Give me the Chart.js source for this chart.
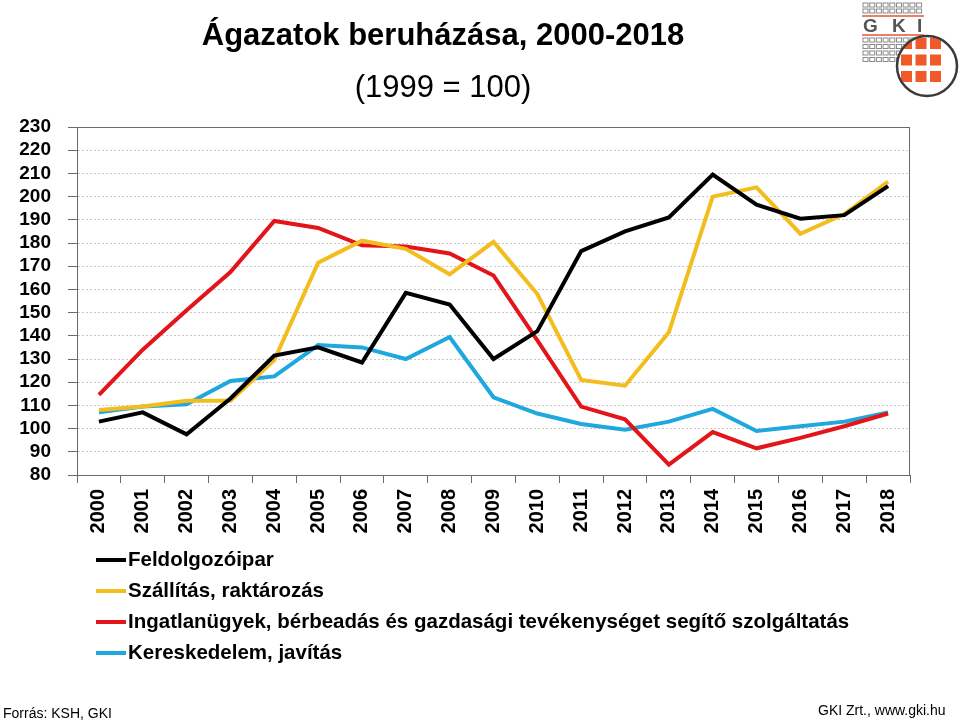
<!DOCTYPE html>
<html>
<head>
<meta charset="utf-8">
<script src="https://cdn.jsdelivr.net/npm/chart.js@4/dist/chart.umd.min.js"></script>
<style>
  html, body { margin: 0; padding: 0; background: #fff; }
  body { width: 960px; height: 723px; position: relative; overflow: hidden;
         font-family: "Liberation Sans", Arial, sans-serif; }
  #wrap { position: absolute; left: 0; top: 0; width: 960px; height: 723px; }
  .title { position: absolute; left: 0; width: 886px; text-align: center; color: #000; }
  #t1 { top: 17px; font-size: 31px; font-weight: bold; }
  #t2 { top: 69px; font-size: 31px; }
  #legend { position: absolute; left: 96px; top: 543px; }
  .item { height: 31px; line-height: 31px; font-size: 20.5px; font-weight: bold; white-space: nowrap; }
  .item span.ln { display: inline-block; width: 30px; height: 4px; vertical-align: middle; margin-right: 2px; position: relative; top: -1px; }
  .foot { position: absolute; font-size: 14px; color: #000; }
  #logo { position: absolute; left: 860px; top: 0; }
</style>
</head>
<body>
<div id="wrap"><canvas id="chart"></canvas></div>
<div class="title" id="t1">Ágazatok beruházása, 2000-2018</div>
<div class="title" id="t2">(1999 = 100)</div>
<div id="legend"></div>
<div class="foot" style="left:3px; top:705px;">Forrás: KSH, GKI</div>
<div class="foot" style="left:818px; top:702px;">GKI Zrt., www.gki.hu</div>
<svg id="logo" width="100" height="100" xmlns="http://www.w3.org/2000/svg"></svg>
<script>
// years on the x axis
const years = ["2000", "2001", "2002", "2003", "2004", "2005", "2006", "2007", "2008", "2009",
               "2010", "2011", "2012", "2013", "2014", "2015", "2016", "2017", "2018"];

// 1999 = 100
const feldolgozoipar = [103, 107, 97.5, 113, 131.5, 135, 128.5, 158.5, 153.5, 130,
                        142, 176.5, 185, 191, 209.5, 196.5, 190.5, 192, 204.5];
const szallitas = [108, 109.5, 112, 112, 129.5, 171.5, 181, 177.5, 166.5, 180.5,
                   158, 121, 118.5, 141.5, 200, 204, 184, 192.5, 206.5];
const ingatlan = [114.5, 134, 151, 167.5, 189.5, 186.5, 179, 178.5, 175.5, 166,
                  138, 109.5, 104, 84.5, 98.5, 91.5, 96, 101, 106.5];
const kereskedelem = [107, 109.5, 110.5, 120.5, 122.5, 136, 135, 130, 139.5, 113.5,
                      106.5, 102, 99.5, 103, 108.5, 99, 101, 103, 107];

const seriesNames = ["Feldolgozóipar", "Szállítás, raktározás",
  "Ingatlanügyek, bérbeadás és gazdasági tevékenységet segítő szolgáltatás", "Kereskedelem, javítás"];
const seriesColors = ["#000000", "#F2BD1D", "#E3151B", "#1EA8DE"];

const FONT = '"Liberation Sans", Arial, sans-serif';

// frame around the plot area (top and right sides)
const framePlugin = {
  id: "frame",
  beforeDatasetsDraw(chart) {
    const a = chart.chartArea, ctx = chart.ctx;
    ctx.save();
    ctx.strokeStyle = "#6b6b6b";
    ctx.lineWidth = 1;
    ctx.strokeRect(a.left + 0.5, a.top + 0.5, a.right - a.left - 1, a.bottom - a.top);
    ctx.restore();
  }
};

const chart = new Chart(document.getElementById("chart"), {
  type: "line",
  data: {
    labels: years,
    datasets: [feldolgozoipar, szallitas, ingatlan, kereskedelem].map((d, i) => ({
      label: seriesNames[i],
      data: d,
      borderColor: seriesColors[i],
      backgroundColor: seriesColors[i],
      borderWidth: 4,
      pointRadius: 0,
      tension: 0
    }))
  },
  options: {
    responsive: true,
    maintainAspectRatio: false,
    animation: false,
    layout: { padding: { top: 127, right: 50, bottom: 183, left: 0 } },
    plugins: { legend: { display: false }, tooltip: { enabled: false } },
    scales: {
      x: {
        offset: true,
        grid: { offset: true, drawOnChartArea: false, tickLength: 8, color: "#6b6b6b" },
        border: { color: "#6b6b6b" },
        ticks: { minRotation: 90, maxRotation: 90, padding: 6, color: "#000", autoSkip: false,
                 font: { family: FONT, size: 20, weight: "bold" } },
        afterFit(axis) { axis.height = 65; }
      },
      y: {
        min: 80,
        max: 230,
        ticks: { stepSize: 10, padding: 17, color: "#000", autoSkip: false,
                 font: { family: FONT, size: 19, weight: "bold" } },
        grid: { color: "#c9c9c9", tickColor: "#6b6b6b", tickLength: 9, borderDash: [2, 2] },
        border: { color: "#6b6b6b", dash: [2, 2] },
        afterFit(axis) { axis.width = 77; }
      }
    }
  },
  plugins: [framePlugin]
});

// legend built from the datasets
const legend = document.getElementById("legend");
chart.data.datasets.forEach(ds => {
  const row = document.createElement("div");
  row.className = "item";
  row.innerHTML = '<span class="ln" style="background:' + ds.borderColor + '"></span>' + ds.label;
  legend.appendChild(row);
});

// GKI logo
const svg = document.getElementById("logo");
let s = '<defs><clipPath id="cc"><circle cx="67" cy="66" r="29"/></clipPath></defs>';
const sq = (x, y) => '<rect x="' + x + '" y="' + y + '" width="5" height="4" fill="none" stroke="#8a8a8a" stroke-width="1"/>';
for (let r = 0; r < 2; r++) for (let c = 0; c < 9; c++) s += sq(3 + c * 6.7, 3 + r * 6);
s += '<line x1="2" y1="16" x2="64" y2="16" stroke="#e8552f" stroke-width="1.5"/>';
s += '<text x="3" y="32" font-family="Liberation Sans, Arial" font-weight="bold" font-size="19" fill="#555">G</text>';
s += '<text x="32" y="32" font-family="Liberation Sans, Arial" font-weight="bold" font-size="19" fill="#555">K</text>';
s += '<text x="57" y="32" font-family="Liberation Sans, Arial" font-weight="bold" font-size="19" fill="#555">I</text>';
s += '<line x1="2" y1="35" x2="64" y2="35" stroke="#e8552f" stroke-width="1.5"/>';
for (let r = 0; r < 4; r++) for (let c = 0; c < 9; c++) s += sq(3 + c * 6.7, 38 + r * 6.5);
s += '<circle cx="67" cy="66" r="30" fill="#fff"/>';
s += '<g clip-path="url(#cc)">';
for (let r = 0; r < 3; r++) for (let c = 0; c < 3; c++)
  s += '<rect x="' + (41 + c * 14.5) + '" y="' + (38 + r * 16.5) + '" width="11" height="11" fill="#f05a28"/>';
s += '</g>';
s += '<circle cx="67" cy="66" r="30" fill="none" stroke="#3a3a3a" stroke-width="2.5"/>';
svg.innerHTML = s;
</script>
</body>
</html>
